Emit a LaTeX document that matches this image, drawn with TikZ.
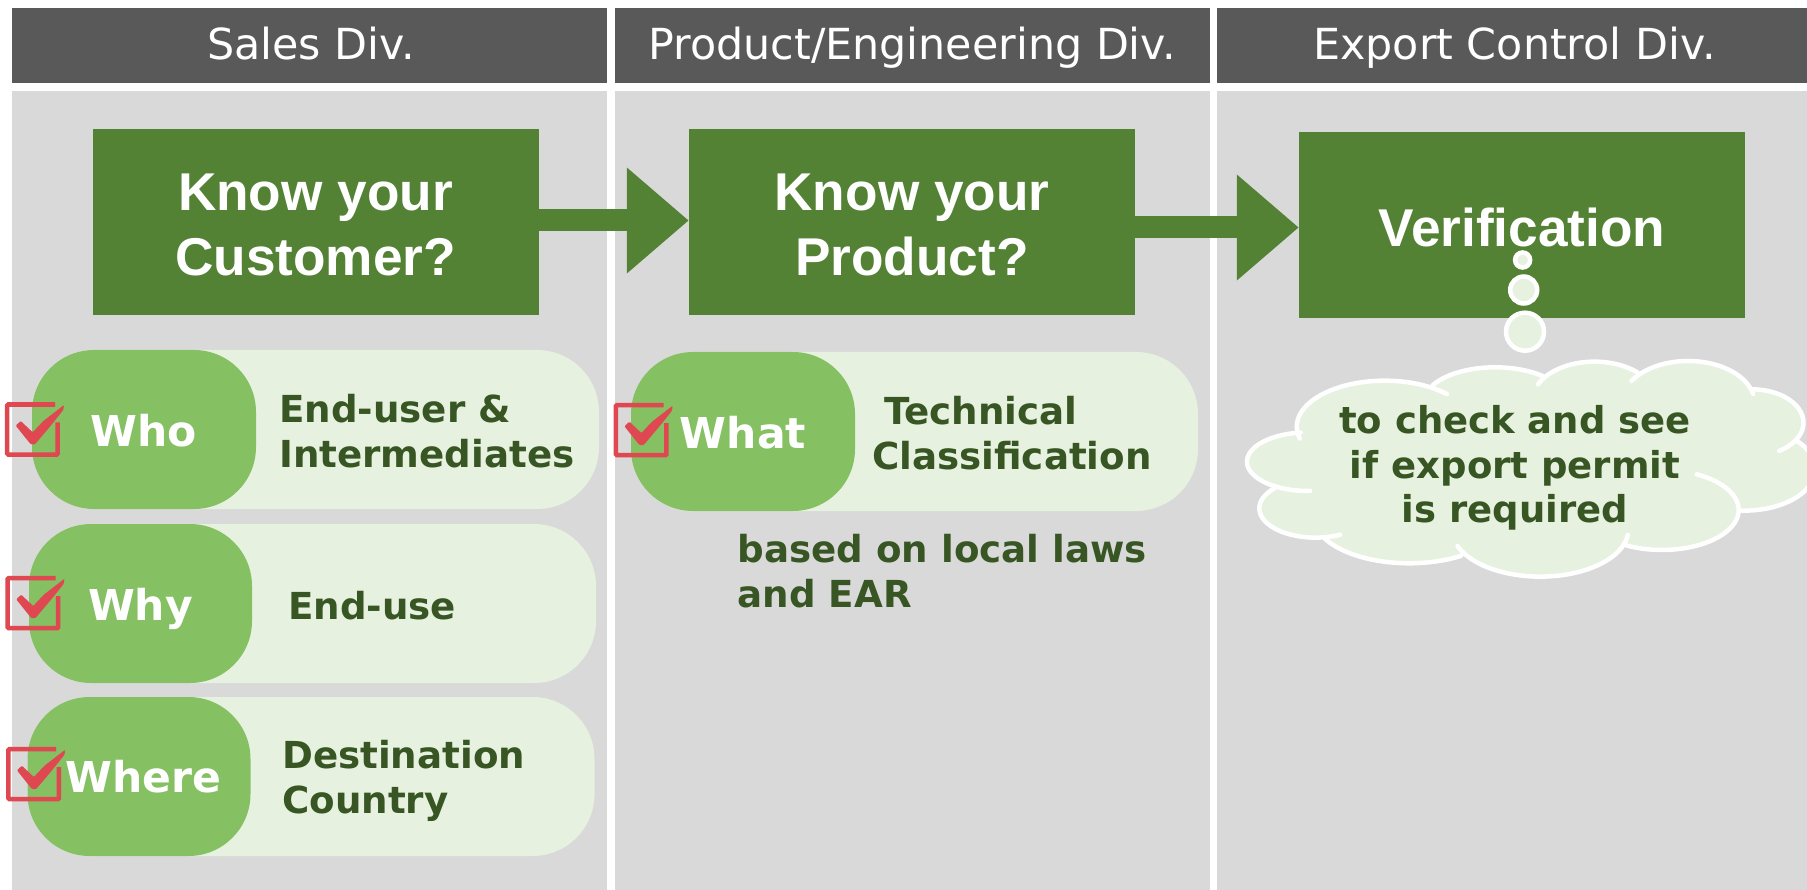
\documentclass[tikz,border=0pt]{standalone}
\usepackage{fontspec}
\setmainfont{DejaVu Sans}
\newfontfamily\arialb[BoldFont={Liberation Sans Bold}]{Liberation Sans}
\usetikzlibrary{arrows.meta,shapes.geometric}
\definecolor{hdr}{HTML}{595959}
\definecolor{panelc}{HTML}{D9D9D9}
\definecolor{boxc}{HTML}{548235}
\definecolor{pilld}{HTML}{85C063}
\definecolor{pilll}{HTML}{E7F1E0}
\definecolor{txtg}{HTML}{375623}
\definecolor{redc}{HTML}{DF4850}
\newcommand{\lobepath}[6]{plot[domain=#5:#6,samples=50,smooth] ({#1+#3*cos(\x)},{#2+#4*sin(\x)})}
\newcommand{\lobeitem}[6]{\fill[pilll] \lobepath{#1}{#2}{#3}{#4}{0}{360} -- cycle;}
\newcommand{\lobeline}[6]{\draw[lobe] \lobepath{#1}{#2}{#3}{#4}{#5}{#6};}
\tikzset{
  x=1pt,y=-1pt,
  hdrbox/.style={fill=hdr,text=white,inner sep=0,anchor=center,text height=36pt,text depth=8pt,font=\fontsize{42.8}{50}\selectfont},
  panelbox/.style={fill=panelc,inner sep=0,anchor=center},
  bigbox/.style={fill=boxc,inner sep=0,minimum width=446pt,minimum height=186pt},
  bigtext/.style={text=white,inner sep=0,align=center,font=\fontsize{53.2}{64.5}\selectfont\arialb\bfseries},
  lightpill/.style={fill=pilll,inner sep=0,minimum height=159pt,rounded corners=62pt},
  darkpill/.style={fill=pilld,inner sep=0,minimum height=159pt,rounded corners=62pt},
  pilllabel/.style={text=white,inner sep=0,font=\fontsize{42.5}{50}\selectfont\bfseries},
  greentext/.style={text=txtg,inner sep=0,anchor=west,align=left,font=\fontsize{37.2}{45}\selectfont\bfseries},
  cloudtext/.style={text=txtg,inner sep=0,align=center,font=\fontsize{37}{44.5}\selectfont\bfseries},
  blockarrow/.style={draw=boxc,line width=22pt,-{Triangle[length=62pt,width=102pt,fill=boxc]}},
  bubble/.style={ellipse,draw=white,fill=pilll,line width=4.5pt,inner sep=0},
  lobe/.style={draw=white,line width=4.5pt,line cap=round},
  pics/chkbox/.style={code={
    \draw[redc,line width=4.5pt,rounded corners=1pt] (50,2.2) -- (2.2,2.2) -- (2.2,52.2) -- (52.7,52.2) -- (52.7,20);
    \fill[redc,rounded corners=1pt] (10.7,23.3) -- (15.7,18.7) -- (27.7,30) -- (38.3,18.7) -- (59,2.7) -- (58.3,7.7) -- (45,24.3) -- (30,42) -- (25.7,42) -- cycle;
  }},
}
\begin{document}
\begin{tikzpicture}
\useasboundingbox (0,0) rectangle (1807,890);
\clip (0,0) rectangle (1807,890);
\fill[white] (0,0) rectangle (1807,890);
% headers
\node[hdrbox,minimum width=595.5pt,minimum height=75pt] (h1) at (309.25,45.5) {\hspace*{4pt}Sales Div.};
\node[hdrbox,minimum width=595pt,minimum height=75pt] (h2) at (912.5,45.5) {Product/Engineering Div.};
\node[hdrbox,minimum width=595pt,minimum height=75pt] (h3) at (1514.5,45.5) {Export Control Div.};
% panels
\node[panelbox,minimum width=595.5pt,minimum height=799pt] (p1) at (309.25,490.5) {};
\node[panelbox,minimum width=595pt,minimum height=799pt] (p2) at (912.5,490.5) {};
\node[panelbox,minimum width=595pt,minimum height=799pt] (p3) at (1514.5,490.5) {};
% main boxes
\node[bigbox] (cust) at (315.5,222) {};
\node[bigbox] (prod) at (912,222) {};
\node[bigbox] (veri) at (1522,225) {};
\node[bigtext] (custT) at (315.5,225) {Know your\\Customer?};
\node[bigtext] (prodT) at (912,225) {Know your\\Product?};
\node[bigtext] (veriT) at (1522,227) {Verification};
% arrows
\draw[blockarrow] ([yshift=1.5pt]cust.east) -- ([yshift=1.5pt]prod.west);
\draw[blockarrow] ([yshift=-5.5pt]prod.east) -- ([yshift=-2.5pt]veri.west);
% pills
\node[lightpill,minimum width=567pt] (whoL) at (315.5,429.5) {};
\node[darkpill,minimum width=224pt] (whoD) at (144,429.5) {};
\node[pilllabel] (whoT) at (144,431) {Who};
\node[greentext] (whoR) at (279,431) {End-user \&\\Intermediates};
\node[lightpill,minimum width=567pt] (whyL) at (312.5,603.5) {};
\node[darkpill,minimum width=223pt] (whyD) at (140.5,603.5) {};
\node[pilllabel] (whyT) at (140.5,609) {Why};
\node[greentext] (whyR) at (288,606) {End-use};
\node[lightpill,minimum width=567pt] (wheL) at (311,776.5) {};
\node[darkpill,minimum width=223pt] (wheD) at (139,776.5) {};
\node[pilllabel] (wheT) at (143,777) {Where};
\node[greentext] (wheR) at (282,781) {Destination\\Country};
\node[lightpill,minimum width=567pt] (whaL) at (914.5,431.5) {};
\node[darkpill,minimum width=224pt] (whaD) at (743,431.5) {};
\node[pilllabel] (whaT) at (743,433) {What};
\node[greentext] (whaR) at (872,433.5) {\hspace*{12pt}Technical\\Classification};
\node[greentext] (based) at (737.5,571) {based on local laws\\and EAR};
% checks
\pic at (5,402.3) {chkbox};
\pic at (5.5,576) {chkbox};
\pic at (6.2,747) {chkbox};
\pic at (613.7,403) {chkbox};
% bubbles
\node[bubble,minimum width=38pt,minimum height=38pt] (b3) at (1525,331.7) {};
\node[bubble,minimum width=27pt,minimum height=27pt] (b2) at (1523.7,290) {};
\node[bubble,minimum width=15pt,minimum height=15pt] (b1) at (1522.6,260) {};
% cloud
\begin{scope}[shift={(1220,230)},x=0.3745pt,y=-0.3333pt]
\fill[pilll] (240,620) -- (440,470) -- (560,480) -- (735,430) -- (858,455) -- (990,415) -- (1110,445) -- (1250,415) -- (1420,490) -- (1530,600) -- (1570,700) -- (1395,830) -- (1180,940) -- (1075,930) -- (850,1020) -- (650,965) -- (510,985) -- (280,900) -- (130,830) -- (170,770) -- (100,695) -- cycle;
\lobeitem{440}{590}{235}{138}{165}{315}
\lobeitem{735}{515}{190}{103}{208}{312}
\lobeitem{1000}{510}{165}{115}{204}{314}
\lobeitem{1250}{520}{178}{127}{212}{347}
\lobeitem{1420}{578}{138}{100}{270}{418}
\lobeitem{1400}{717}{190}{125}{-42}{92}
\lobeitem{1180}{840}{205}{120}{-63}{120}
\lobeitem{855}{900}{235}{140}{6}{160}
\lobeitem{505}{860}{255}{140}{57}{152}
\lobeitem{255}{835}{150}{88}{64}{224}
\lobeitem{235}{695}{163}{88}{88}{263}
\lobeline{440}{590}{235}{138}{165}{315}
\lobeline{735}{515}{190}{103}{208}{312}
\lobeline{1000}{510}{165}{115}{204}{314}
\lobeline{1250}{520}{178}{127}{212}{347}
\lobeline{1420}{578}{138}{100}{270}{418}
\lobeline{1400}{717}{190}{125}{-42}{92}
\lobeline{1180}{840}{205}{120}{-63}{120}
\lobeline{855}{900}{235}{140}{6}{160}
\lobeline{505}{860}{255}{140}{57}{152}
\lobeline{255}{835}{150}{88}{64}{224}
\lobeline{235}{695}{163}{88}{88}{263}
\end{scope}
\node[cloudtext] (cloud) at (1515,468) {to check and see\\if export permit\\is required};
\end{tikzpicture}
\end{document}
